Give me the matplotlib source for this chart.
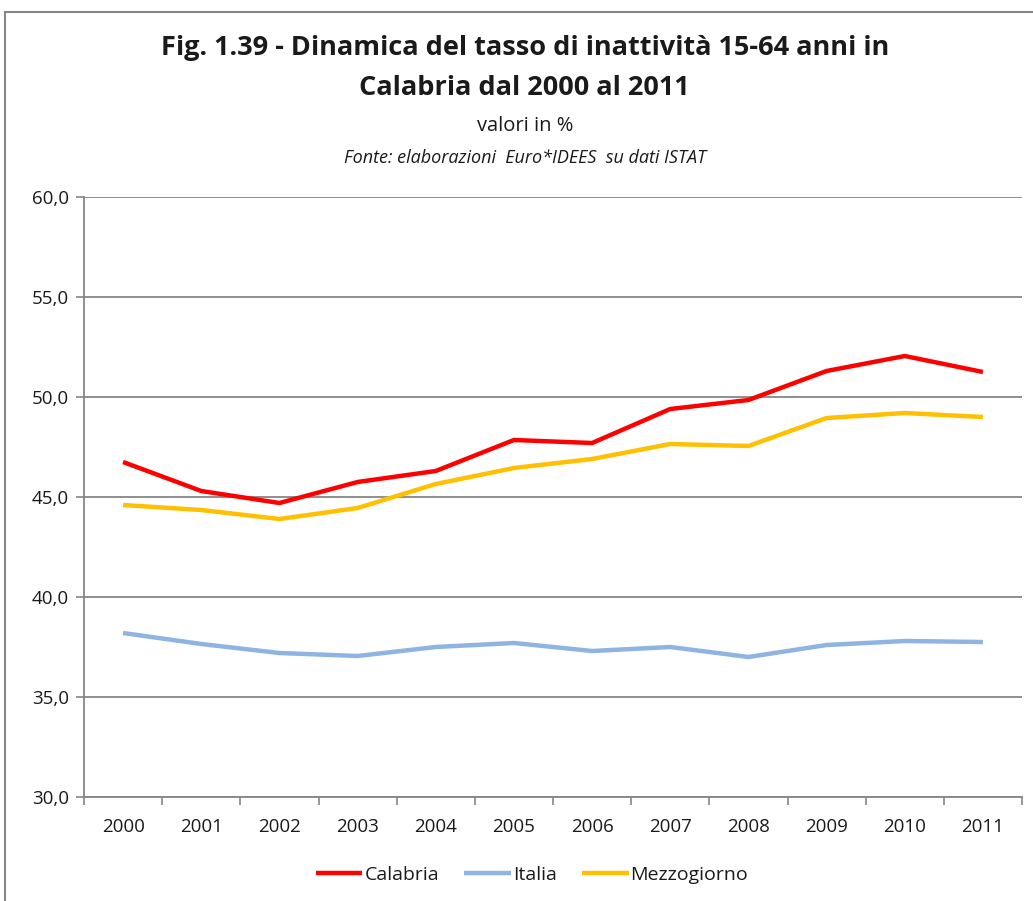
import matplotlib
matplotlib.use("Agg")
import matplotlib.pyplot as plt
from matplotlib.patches import Rectangle
from matplotlib.ticker import FixedLocator, FuncFormatter

years = ["2000", "2001", "2002", "2003", "2004", "2005", "2006", "2007", "2008", "2009", "2010", "2011"]
calabria = [46.75, 45.3, 44.7, 45.75, 46.3, 47.85, 47.7, 49.4, 49.85, 51.3, 52.05, 51.25]
italia = [38.2, 37.65, 37.2, 37.05, 37.5, 37.7, 37.3, 37.5, 37.0, 37.6, 37.8, 37.75]
mezzogiorno = [44.6, 44.35, 43.9, 44.45, 45.65, 46.45, 46.9, 47.65, 47.55, 48.95, 49.2, 49.0]
yticks = [30, 35, 40, 45, 50, 55, 60]

plt.rcParams['font.family'] = ['Open Sans', 'DejaVu Sans']
TXT = "#1a1a1a"

fig = plt.figure(figsize=(10.33, 9.01), dpi=100)
ax = fig.add_axes([84/1033, 1-797/901, (1022-84)/1033, (797-197)/901])

x = list(range(len(years)))
ax.plot(x, calabria, color="#FF0000", lw=3.2, label="Calabria", solid_capstyle="butt")
ax.plot(x, italia, color="#8EB4E3", lw=3.2, label="Italia", solid_capstyle="butt")
ax.plot(x, mezzogiorno, color="#FFC000", lw=3.2, label="Mezzogiorno", solid_capstyle="butt")

ax.set_xlim(-0.5, len(years) - 0.5)
ax.set_ylim(30, 60)
ax.set_yticks(yticks)
ax.yaxis.set_major_formatter(FuncFormatter(lambda v, p: f"{v:.1f}".replace(".", ",")))
ax.set_xticks(x)
ax.set_xticklabels(years)
ax.xaxis.set_minor_locator(FixedLocator([i - 0.5 for i in range(len(years) + 1)]))
ax.tick_params(axis='x', which='major', length=0, pad=15, labelsize=13.5, labelcolor=TXT)
ax.tick_params(axis='x', which='minor', length=6, width=1.2, color="#868686", direction='out')
ax.tick_params(axis='y', length=6, width=1.2, color="#868686", labelsize=13.5, pad=5, labelcolor=TXT)
ax.grid(axis='y', color="#868686", lw=1.3)
ax.set_axisbelow(True)
for s in ['top', 'right']:
    ax.spines[s].set_visible(False)
for s in ['left', 'bottom']:
    ax.spines[s].set_color("#868686")
    ax.spines[s].set_linewidth(1.3)

fig.text(0.508, 1-48/901, "Fig. 1.39 - Dinamica del tasso di inattività 15-64 anni in",
         ha='center', va='center', fontsize=19.5, fontweight='bold', color=TXT)
fig.text(0.508, 1-88/901, "Calabria dal 2000 al 2011",
         ha='center', va='center', fontsize=19.5, fontweight='bold', color=TXT)
fig.text(0.508, 1-126/901, "valori in %", ha='center', va='center', fontsize=14.5, color=TXT)
fig.text(0.508, 1-158/901, "Fonte: elaborazioni  Euro*IDEES  su dati ISTAT",
         ha='center', va='center', fontsize=13, style='italic', color=TXT)

fig.legend(loc='center', bbox_to_anchor=(0.515, 1-875/901), ncol=3, frameon=False,
           fontsize=14, handlelength=2.4, handletextpad=0.1, columnspacing=1.3,
           labelcolor=TXT)

fig.patches.append(Rectangle((5/1033, -0.01), 1.1, 1-12/901 + 0.01, transform=fig.transFigure,
                             fill=False, edgecolor="#868686", lw=1.5))

fig.savefig("out.png", dpi=100)
